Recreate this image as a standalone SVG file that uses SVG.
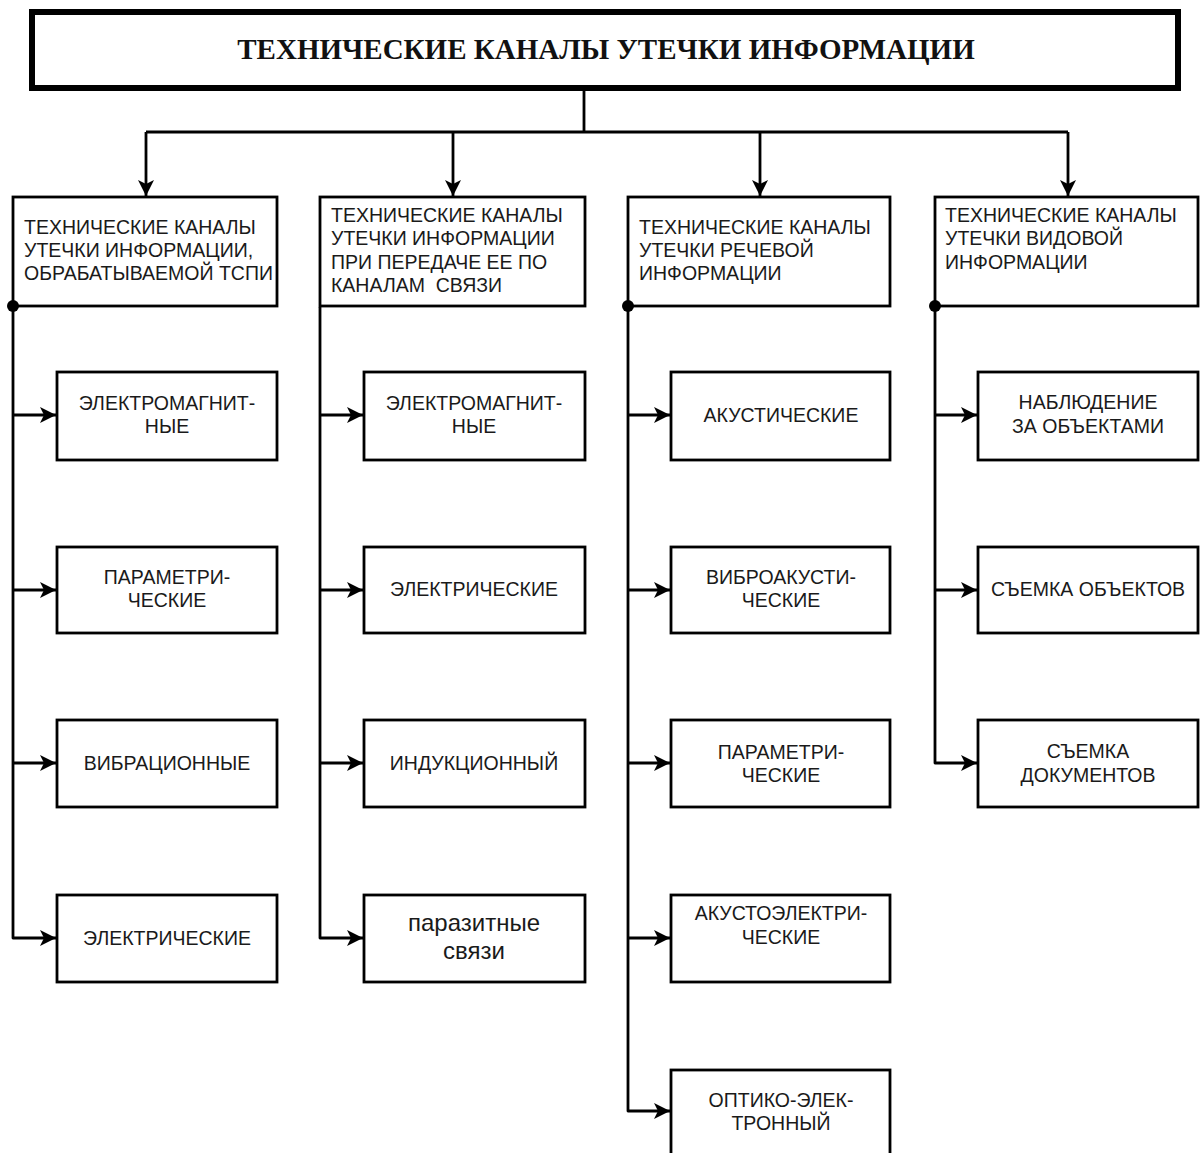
<svg xmlns="http://www.w3.org/2000/svg" width="1203" height="1153" viewBox="0 0 1203 1153">
<style>
.box{fill:#fff;stroke:#000;stroke-width:2.8}
.t{font-family:"Liberation Sans",Arial,sans-serif;font-size:19.5px;fill:#1a1a1a}
.c{text-anchor:middle}
.ln{fill:none;stroke:#000;stroke-width:2.8;stroke-linejoin:round}
.title{font-family:"Liberation Serif","Times New Roman",serif;font-weight:bold;font-size:29px;fill:#111;text-anchor:middle}
</style>
<defs>
<marker id="ah" viewBox="0 0 16 16" refX="16" refY="8" markerWidth="16" markerHeight="16" orient="auto" markerUnits="userSpaceOnUse">
<path d="M0,0 L16,8 L0,16 L4,8 z" fill="#000"/>
</marker>
</defs>
<rect width="1203" height="1153" fill="#fff"/>
<g id="title">
<rect x="32" y="12" width="1146" height="76" fill="#fff" stroke="#000" stroke-width="6"/>
<text class="title" x="606" y="59">ТЕХНИЧЕСКИЕ КАНАЛЫ УТЕЧКИ ИНФОРМАЦИИ</text>
</g>
<g id="h1">
<rect class="box" x="13" y="197" width="264" height="109"/>
<text class="t" x="24" y="234">ТЕХНИЧЕСКИЕ КАНАЛЫ</text>
<text class="t" x="24" y="257">УТЕЧКИ ИНФОРМАЦИИ,</text>
<text class="t" x="24" y="280">ОБРАБАТЫВАЕМОЙ ТСПИ</text>
</g>
<g id="h2">
<rect class="box" x="320" y="197" width="265" height="109"/>
<text class="t" x="331" y="222">ТЕХНИЧЕСКИЕ КАНАЛЫ</text>
<text class="t" x="331" y="245">УТЕЧКИ ИНФОРМАЦИИ</text>
<text class="t" x="331" y="269">ПРИ ПЕРЕДАЧЕ ЕЕ ПО</text>
<text class="t" x="331" y="292" xml:space="preserve">КАНАЛАМ  СВЯЗИ</text>
</g>
<g id="h3">
<rect class="box" x="628" y="197" width="262" height="109"/>
<text class="t" x="639" y="234">ТЕХНИЧЕСКИЕ КАНАЛЫ</text>
<text class="t" x="639" y="257">УТЕЧКИ РЕЧЕВОЙ</text>
<text class="t" x="639" y="280">ИНФОРМАЦИИ</text>
</g>
<g id="h4">
<rect class="box" x="935" y="197" width="263" height="109"/>
<text class="t" x="945" y="222">ТЕХНИЧЕСКИЕ КАНАЛЫ</text>
<text class="t" x="945" y="245">УТЕЧКИ ВИДОВОЙ</text>
<text class="t" x="945" y="269">ИНФОРМАЦИИ</text>
</g>
<g id="c1a"><rect class="box" x="57" y="372" width="220" height="88"/>
<text class="t c" x="167" y="410">ЭЛЕКТРОМАГНИТ-</text><text class="t c" x="167" y="433">НЫЕ</text></g>
<g id="c1b"><rect class="box" x="57" y="547" width="220" height="86"/>
<text class="t c" x="167" y="584">ПАРАМЕТРИ-</text><text class="t c" x="167" y="607">ЧЕСКИЕ</text></g>
<g id="c1c"><rect class="box" x="57" y="720" width="220" height="87"/>
<text class="t c" x="167" y="770">ВИБРАЦИОННЫЕ</text></g>
<g id="c1d"><rect class="box" x="57" y="895" width="220" height="87"/>
<text class="t c" x="167" y="945">ЭЛЕКТРИЧЕСКИЕ</text></g>
<g id="c2a"><rect class="box" x="364" y="372" width="221" height="88"/>
<text class="t c" x="474" y="410">ЭЛЕКТРОМАГНИТ-</text><text class="t c" x="474" y="433">НЫЕ</text></g>
<g id="c2b"><rect class="box" x="364" y="547" width="221" height="86"/>
<text class="t c" x="474" y="596">ЭЛЕКТРИЧЕСКИЕ</text></g>
<g id="c2c"><rect class="box" x="364" y="720" width="221" height="87"/>
<text class="t c" x="474" y="770">ИНДУКЦИОННЫЙ</text></g>
<g id="c2d"><rect class="box" x="364" y="895" width="221" height="87"/>
<text class="t c" x="474" y="931" style="font-size:24px">паразитные</text><text class="t c" x="474" y="959" style="font-size:24px">связи</text></g>
<g id="c3a"><rect class="box" x="671" y="372" width="219" height="88"/>
<text class="t c" x="781" y="422">АКУСТИЧЕСКИЕ</text></g>
<g id="c3b"><rect class="box" x="671" y="547" width="219" height="86"/>
<text class="t c" x="781" y="584">ВИБРОАКУСТИ-</text><text class="t c" x="781" y="607">ЧЕСКИЕ</text></g>
<g id="c3c"><rect class="box" x="671" y="720" width="219" height="87"/>
<text class="t c" x="781" y="759">ПАРАМЕТРИ-</text><text class="t c" x="781" y="782">ЧЕСКИЕ</text></g>
<g id="c3d"><rect class="box" x="671" y="895" width="219" height="87"/>
<text class="t c" x="781" y="920">АКУСТОЭЛЕКТРИ-</text><text class="t c" x="781" y="944">ЧЕСКИЕ</text></g>
<g id="c3e"><rect class="box" x="671" y="1070" width="219" height="100"/>
<text class="t c" x="781" y="1107">ОПТИКО-ЭЛЕК-</text><text class="t c" x="781" y="1130">ТРОННЫЙ</text></g>
<g id="c4a"><rect class="box" x="978" y="372" width="220" height="88"/>
<text class="t c" x="1088" y="409">НАБЛЮДЕНИЕ</text><text class="t c" x="1088" y="433">ЗА ОБЪЕКТАМИ</text></g>
<g id="c4b"><rect class="box" x="978" y="547" width="220" height="86"/>
<text class="t c" x="1088" y="596">СЪЕМКА ОБЪЕКТОВ</text></g>
<g id="c4c"><rect class="box" x="978" y="720" width="220" height="87"/>
<text class="t c" x="1088" y="758">СЪЕМКА</text><text class="t c" x="1088" y="782">ДОКУМЕНТОВ</text></g>
<g id="connectors">
<path class="ln" d="M584,91 V132 M146,132 H1068"/>
<path class="ln" d="M146,132 V196" marker-end="url(#ah)"/>
<path class="ln" d="M453,132 V196" marker-end="url(#ah)"/>
<path class="ln" d="M760,132 V196" marker-end="url(#ah)"/>
<path class="ln" d="M1068,132 V196" marker-end="url(#ah)"/>
<path class="ln" d="M13,306 V938 H56" marker-end="url(#ah)"/>
<path class="ln" d="M13,415 H56" marker-end="url(#ah)"/>
<path class="ln" d="M13,590 H56" marker-end="url(#ah)"/>
<path class="ln" d="M13,763 H56" marker-end="url(#ah)"/>
<path class="ln" d="M320,307 V938 H363" marker-end="url(#ah)"/>
<path class="ln" d="M320,415 H363" marker-end="url(#ah)"/>
<path class="ln" d="M320,590 H363" marker-end="url(#ah)"/>
<path class="ln" d="M320,763 H363" marker-end="url(#ah)"/>
<path class="ln" d="M628,306 V1111 H670" marker-end="url(#ah)"/>
<path class="ln" d="M628,415 H670" marker-end="url(#ah)"/>
<path class="ln" d="M628,590 H670" marker-end="url(#ah)"/>
<path class="ln" d="M628,763 H670" marker-end="url(#ah)"/>
<path class="ln" d="M628,938 H670" marker-end="url(#ah)"/>
<path class="ln" d="M935,306 V763 H977" marker-end="url(#ah)"/>
<path class="ln" d="M935,415 H977" marker-end="url(#ah)"/>
<path class="ln" d="M935,590 H977" marker-end="url(#ah)"/>
<circle cx="13" cy="306" r="6" fill="#000"/>
<circle cx="628" cy="306" r="6" fill="#000"/>
<circle cx="935" cy="306" r="6" fill="#000"/>
</g>
</svg>
